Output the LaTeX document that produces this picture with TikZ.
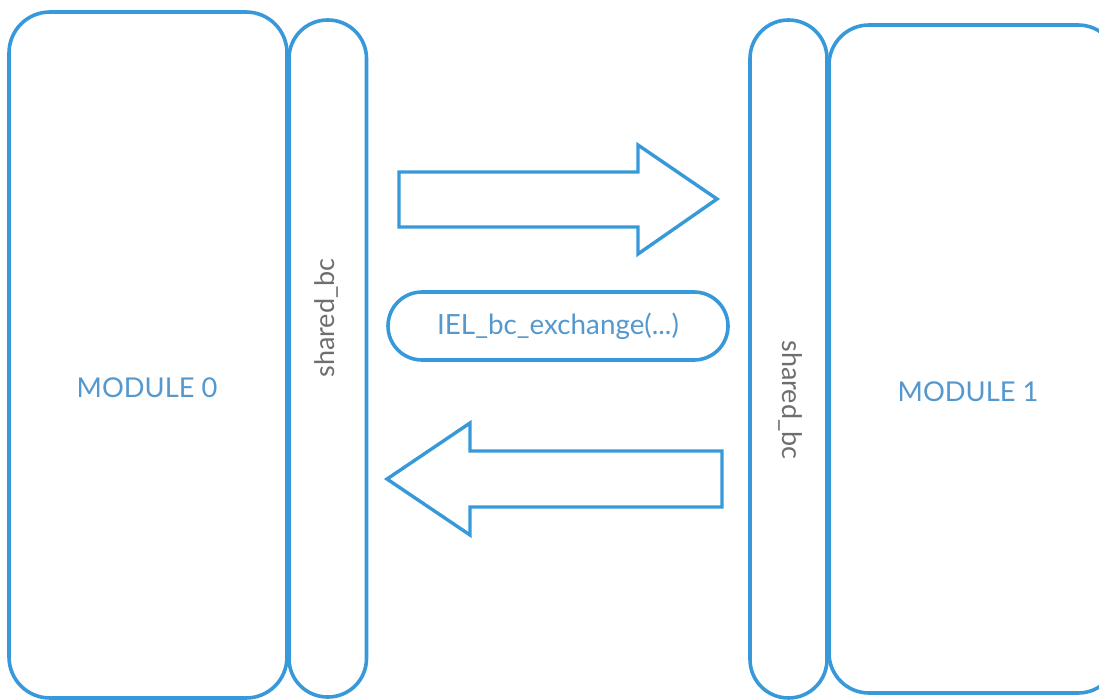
\documentclass[tikz,border=0pt]{standalone}
\usepackage{fontspec}
\setmainfont{Lato}
\definecolor{lineblue}{RGB}{55,153,217}
\definecolor{textblue}{RGB}{84,152,206}
\definecolor{textgray}{RGB}{110,110,110}
\tikzset{
  box/.style={draw=lineblue, line width=3.6pt, inner sep=0pt, outer sep=0pt, fill=none},
  blockarrow/.style={draw=lineblue, line width=3.4pt, line join=miter},
  modlabel/.style={text=textblue, font=\fontsize{27.3}{32}\selectfont, inner sep=0pt},
  sharedlabel/.style={text=textgray, font=\fontsize{27}{32}\selectfont, inner sep=0pt},
}
\begin{document}
\begin{tikzpicture}[x=1pt,y=-1pt]
\clip (0,0) rectangle (1099,700);
% boxes
\node[box, rounded corners=41pt, minimum width=278pt, minimum height=686pt] (m0) at (148,355) {};
\node[box, rounded corners=38.5pt, minimum width=77.5pt, minimum height=677pt] (s0) at (327.75,358.5) {};
\node[box, rounded corners=38.5pt, minimum width=77pt, minimum height=678pt] (s1) at (788.5,359) {};
\node[box, rounded corners=40pt, minimum width=289pt, minimum height=668pt] (m1) at (973.5,359) {};
% labels
\node[modlabel] (l0) at (147,388) {MODULE 0};
\node[modlabel] (l1) at (968,392) {MODULE 1};
\node[sharedlabel, rotate=90] (t0) at (326,318) {shared\_bc};
\node[sharedlabel, rotate=-90] (t1) at (791,400) {shared\_bc};
% pill
\node[box, rounded corners=34pt, minimum width=340pt, minimum height=68pt, text=textblue, font=\fontsize{27.8}{32}\selectfont] (pill) at (558,326) {IEL\_bc\_exchange(...)};
% right arrow
\coordinate (ra1) at (399,172);
\draw[blockarrow] (ra1) -- (638,172) -- (638,145) -- (717,199) -- (638,254) -- (638,227) -- (399,227) -- cycle;
% left arrow
\coordinate (la1) at (722,451);
\draw[blockarrow] (la1) -- (470,451) -- (470,423) -- (387,479) -- (470,535) -- (470,507) -- (722,507) -- cycle;
\end{tikzpicture}
\end{document}
